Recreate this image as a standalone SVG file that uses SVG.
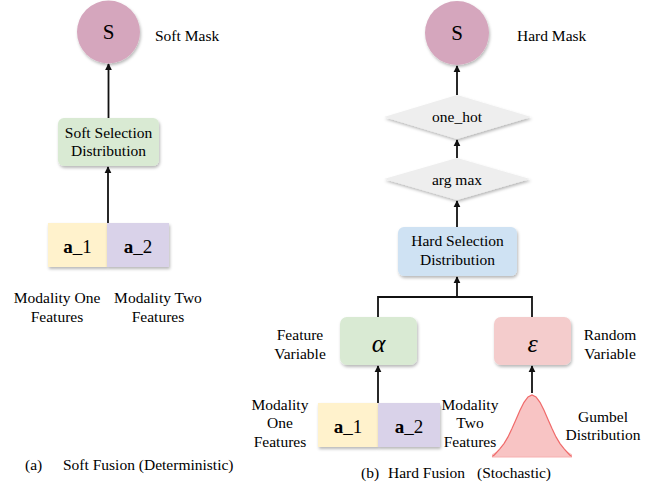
<svg xmlns="http://www.w3.org/2000/svg" width="660" height="489" viewBox="0 0 660 489" font-family="'Liberation Serif', 'Times New Roman', serif">
  <style>
    text { font-family: "Liberation Serif", "Times New Roman", serif; fill: #000; }
    .lbl { font-size: 15.5px; }
    .mid { text-anchor: middle; }
    .big { font-size: 19px; }
    .glyph { font-size: 21px; }
    .greek { font-size: 26px; font-style: italic; }
    .wire { fill: none; stroke: #111; stroke-width: 1.8; }
    .shadow { filter: url(#drop); }
  </style>
  <defs>
    <filter id="drop" x="-20%" y="-20%" width="140%" height="150%">
      <feDropShadow dx="1" dy="2" stdDeviation="1.4" flood-color="#000" flood-opacity="0.28"/>
    </filter>
    <marker id="arrow" viewBox="0 0 10 10" refX="9" refY="5" markerWidth="7" markerHeight="9" markerUnits="userSpaceOnUse" orient="auto">
      <path d="M0,0 L10,5 L0,10 z" fill="#111"/>
    </marker>
  </defs>

  <!-- connectors -->
  <g id="connectors">
    <line class="wire" x1="108.5" y1="118" x2="108.5" y2="64" marker-end="url(#arrow)"/>
    <line class="wire" x1="108" y1="223" x2="108" y2="167" marker-end="url(#arrow)"/>
    <line class="wire" x1="457" y1="95" x2="457" y2="66" marker-end="url(#arrow)"/>
    <line class="wire" x1="457" y1="158" x2="457" y2="140" marker-end="url(#arrow)"/>
    <line class="wire" x1="457" y1="227" x2="457" y2="201" marker-end="url(#arrow)"/>
    <path class="wire" d="M378,317 V297 H532 V317"/>
    <line class="wire" x1="457" y1="297" x2="457" y2="277" marker-end="url(#arrow)"/>
    <line class="wire" x1="378" y1="403" x2="378" y2="366" marker-end="url(#arrow)"/>
    <line class="wire" x1="532" y1="393" x2="532" y2="366" marker-end="url(#arrow)"/>
  </g>

  <!-- (a) soft fusion -->
  <g id="soft-mask">
    <circle class="shadow" cx="108.5" cy="32" r="31.5" fill="#d5a6bd"/>
    <text class="glyph mid" x="108.5" y="39">S</text>
    <text class="lbl" x="155" y="41">Soft Mask</text>
  </g>
  <g id="soft-selection">
    <rect class="shadow" x="58" y="118" width="101" height="48" rx="6" fill="#d9ead3"/>
    <text class="lbl mid" x="108.5" y="138">Soft Selection</text>
    <text class="lbl mid" x="108.5" y="156">Distribution</text>
  </g>
  <g id="soft-a1">
    <rect class="shadow" x="48" y="223" width="59" height="44" fill="#fff2cc"/>
    <text class="big mid" x="77.5" y="253"><tspan font-weight="bold">a</tspan>_1</text>
    <text class="lbl mid" x="57" y="303">Modality One</text>
    <text class="lbl mid" x="57" y="322">Features</text>
  </g>
  <g id="soft-a2">
    <rect class="shadow" x="107" y="223" width="62" height="44" fill="#d9d2e9"/>
    <text class="big mid" x="138" y="253"><tspan font-weight="bold">a</tspan>_2</text>
    <text class="lbl mid" x="158" y="303">Modality Two</text>
    <text class="lbl mid" x="158" y="322">Features</text>
  </g>
  <text class="lbl" x="25" y="470">(a)</text>
  <text class="lbl" x="63" y="470">Soft Fusion (Deterministic)</text>

  <!-- (b) hard fusion -->
  <g id="hard-mask">
    <circle class="shadow" cx="457" cy="33" r="32" fill="#d5a6bd"/>
    <text class="glyph mid" x="457" y="40">S</text>
    <text class="lbl" x="517" y="41">Hard Mask</text>
  </g>
  <g id="one-hot">
    <polygon class="shadow" points="384,117 457,95 531,117 457,139" fill="#eeeeee"/>
    <text class="lbl mid" x="457" y="122">one_hot</text>
  </g>
  <g id="arg-max">
    <polygon class="shadow" points="384,179 457,158 530,179 457,200" fill="#eeeeee"/>
    <text class="lbl mid" x="457" y="185">arg max</text>
  </g>
  <g id="hard-selection">
    <rect class="shadow" x="398" y="227" width="119" height="49" rx="6" fill="#cfe2f3"/>
    <text class="lbl mid" x="457.5" y="246">Hard Selection</text>
    <text class="lbl mid" x="457.5" y="265">Distribution</text>
  </g>
  <g id="feature-variable">
    <rect class="shadow" x="340" y="317" width="77" height="48" rx="7" fill="#d9ead3"/>
    <text class="greek mid" x="378.5" y="352">α</text>
    <text class="lbl mid" x="300" y="340">Feature</text>
    <text class="lbl mid" x="300" y="359">Variable</text>
  </g>
  <g id="random-variable">
    <rect class="shadow" x="494" y="317" width="77" height="48" rx="7" fill="#f4cccc"/>
    <text class="greek mid" x="532.5" y="352">ε</text>
    <text class="lbl mid" x="610" y="340">Random</text>
    <text class="lbl mid" x="610" y="359">Variable</text>
  </g>
  <g id="hard-a1">
    <rect class="shadow" x="318" y="403" width="60" height="44" fill="#fff2cc"/>
    <text class="big mid" x="348" y="433"><tspan font-weight="bold">a</tspan>_1</text>
    <text class="lbl mid" x="280" y="410">Modality</text>
    <text class="lbl mid" x="280" y="428">One</text>
    <text class="lbl mid" x="280" y="447">Features</text>
  </g>
  <g id="hard-a2">
    <rect class="shadow" x="378" y="403" width="62" height="44" fill="#d9d2e9"/>
    <text class="big mid" x="409" y="433"><tspan font-weight="bold">a</tspan>_2</text>
    <text class="lbl mid" x="470" y="410">Modality</text>
    <text class="lbl mid" x="470" y="428">Two</text>
    <text class="lbl mid" x="470" y="447">Features</text>
  </g>
  <g id="gumbel">
    <path d="M492,457 L492,454.3 496,452.1 500,448.6 504,443.6 508,436.9 512,428.6 516,419.4 520,410.2 524,402.3 528,396.9 532,395 536,396.9 540,402.3 544,410.2 548,419.4 552,428.6 556,436.9 560,443.6 564,448.6 568,452.1 572,454.3 572,457 Z" fill="#f8c4c4"/>
    <path d="M492,456.5 C494,456 496,453 500,448.6 L504,443.6 508,436.9 512,428.6 516,419.4 520,410.2 524,402.3 528,396.9 532,395 536,396.9 540,402.3 544,410.2 548,419.4 552,428.6 556,436.9 560,443.6 564,448.6 C568,453 570,456 572,456.5" fill="none" stroke="#f06a6a" stroke-width="1.2"/>
    <line x1="492" y1="457" x2="572" y2="457" stroke="#f7b0b0" stroke-width="1"/>
    <text class="lbl mid" x="603" y="422">Gumbel</text>
    <text class="lbl mid" x="603" y="440">Distribution</text>
  </g>
  <text class="lbl" x="361" y="478">(b)</text>
  <text class="lbl" x="388" y="478">Hard Fusion</text>
  <text class="lbl" x="477" y="478">(Stochastic)</text>
</svg>
